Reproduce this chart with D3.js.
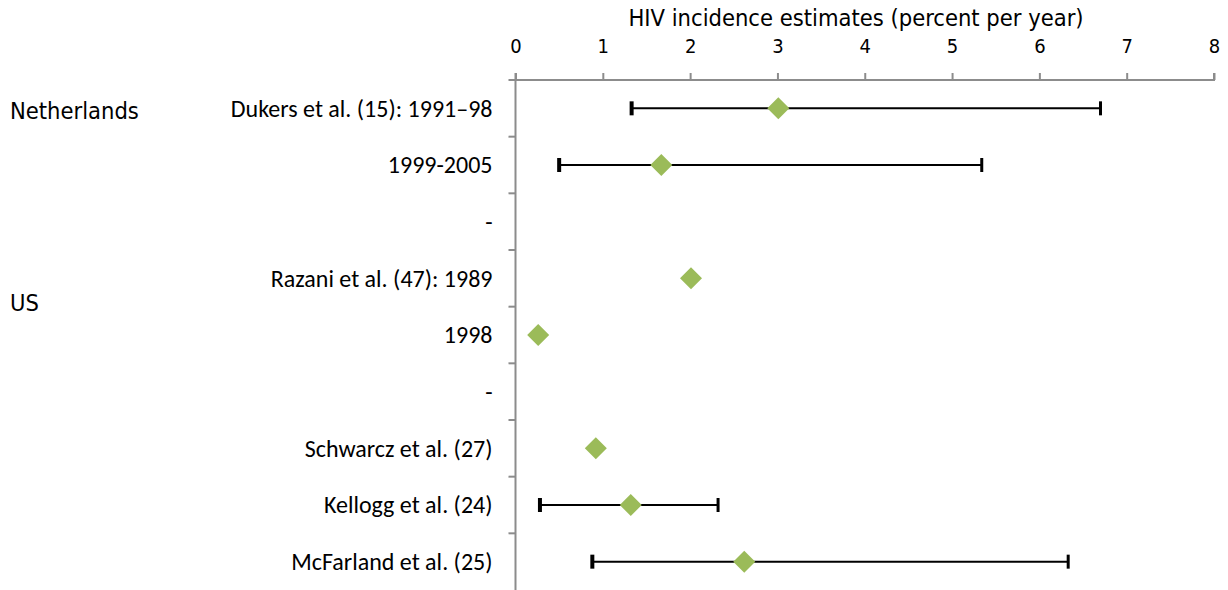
<!DOCTYPE html>
<html>
<head>
<meta charset="utf-8">
<script src="https://cdn.jsdelivr.net/npm/d3@7"></script>
<style>
  body { margin: 0; background: #fff; }
  svg { display: block; }
</style>
</head>
<body>
<div id="chart"></div>
<script>
// study rows, top to bottom
const rowLabels = ['Dukers et al. (15): 1991\u201398', '1999-2005', '-', 'Razani et al. (47): 1989', '1998', '-',
  'Schwarcz et al. (27)', 'Kellogg et al. (24)', 'McFarland et al. (25)'];
const estimates = [3.01, 1.67, null, 2.01, 0.26, null, 0.92, 1.32, 2.62];
const lowerCI = [1.33, 0.50, null, null, null, null, null, 0.28, 0.88];
const upperCI = [6.70, 5.34, null, null, null, null, null, 2.32, 6.33];
const groupLabels = ['Netherlands', 'US'];
const groupRows = [0, 3.4];
const xTicks = [0, 1, 2, 3, 4, 5, 6, 7, 8];
const xTitle = 'HIV incidence estimates (percent per year)';

const W = 1228, H = 590;
const margin = { top: 80, right: 14, bottom: 0, left: 515.5 };
const width = W - margin.left - margin.right;
const height = H - margin.top - margin.bottom;

const svg = d3.select('#chart').append('svg')
  .attr('width', W)
  .attr('height', H);

const g = svg.append('g')
  .attr('transform', 'translate(' + margin.left + ',' + margin.top + ')');

const x = d3.scaleLinear().domain([0, 8]).range([0, width]);
const y = d3.scaleBand().domain(d3.range(rowLabels.length)).range([0, height]);

const axisColor = '#8c8c8c';
const tickFont = 'Tahoma, "DejaVu Sans Condensed", "Noto Sans", sans-serif';

// x axis on top
const xAxis = g.append('g')
  .call(d3.axisTop(x).tickValues(xTicks).tickSize(7).tickSizeOuter(7).tickPadding(20));
xAxis.select('.domain').attr('stroke', axisColor).attr('stroke-width', 2)
  .attr('d', 'M-7,0H' + width + 'V-7');
xAxis.selectAll('.tick line').attr('stroke', axisColor).attr('stroke-width', 2);
xAxis.selectAll('.tick text')
  .attr('fill', '#000')
  .style('font-family', tickFont)
  .style('font-size', '20px');

// y axis with ticks between rows
const yAxis = g.append('g');
yAxis.append('line')
  .attr('x1', 0).attr('x2', 0)
  .attr('y1', -7).attr('y2', height)
  .attr('stroke', axisColor).attr('stroke-width', 2);
yAxis.selectAll('line.sep')
  .data(d3.range(1, rowLabels.length))
  .join('line')
  .attr('class', 'sep')
  .attr('x1', -7).attr('x2', 0)
  .attr('y1', d => y(d)).attr('y2', d => y(d))
  .attr('stroke', axisColor).attr('stroke-width', 2);

// row labels
g.selectAll('text.row')
  .data(rowLabels)
  .join('text')
  .attr('class', 'row')
  .attr('x', -23)
  .attr('y', (d, i) => y(i) + y.bandwidth() / 2)
  .attr('dy', '0.35em')
  .attr('text-anchor', 'end')
  .style('font-family', 'Carlito, Lato, "Open Sans", sans-serif')
  .style('font-size', '24px')
  .text(d => d);

// group labels
svg.selectAll('text.group')
  .data(groupLabels)
  .join('text')
  .attr('class', 'group')
  .attr('x', 10)
  .attr('y', (d, i) => margin.top + y.bandwidth() * groupRows[i] + y.bandwidth() / 2 + 2)
  .attr('dy', '0.35em')
  .style('font-family', tickFont)
  .style('font-size', '23.5px')
  .text(d => d);

// axis title
svg.append('text')
  .attr('x', margin.left + x(3.9))
  .attr('y', 18)
  .attr('dy', '0.35em')
  .attr('text-anchor', 'middle')
  .style('font-family', tickFont)
  .style('font-size', '23.5px')
  .text(xTitle);

const rows = rowLabels.map((label, i) => ({ i, est: estimates[i], lo: lowerCI[i], hi: upperCI[i] }));
const withCI = rows.filter(d => d.lo != null);

// error bars
const bars = g.selectAll('g.err')
  .data(withCI)
  .join('g')
  .attr('class', 'err')
  .attr('transform', d => 'translate(0,' + (y(d.i) + y.bandwidth() / 2) + ')');
bars.append('line')
  .attr('x1', d => x(d.lo)).attr('x2', d => x(d.hi))
  .attr('stroke', '#000').attr('stroke-width', 2);
bars.append('line')
  .attr('x1', d => x(d.lo)).attr('x2', d => x(d.lo))
  .attr('y1', -7).attr('y2', 7)
  .attr('stroke', '#000').attr('stroke-width', 4);
bars.append('line')
  .attr('x1', d => x(d.hi)).attr('x2', d => x(d.hi))
  .attr('y1', -7).attr('y2', 7)
  .attr('stroke', '#000').attr('stroke-width', 3);

// point estimates
g.selectAll('path.pt')
  .data(rows.filter(d => d.est != null))
  .join('path')
  .attr('class', 'pt')
  .attr('d', 'M0,-11L11,0L0,11L-11,0Z')
  .attr('transform', d => 'translate(' + x(d.est) + ',' + (y(d.i) + y.bandwidth() / 2) + ')')
  .attr('fill', '#9bbb59');
</script>
</body>
</html>
